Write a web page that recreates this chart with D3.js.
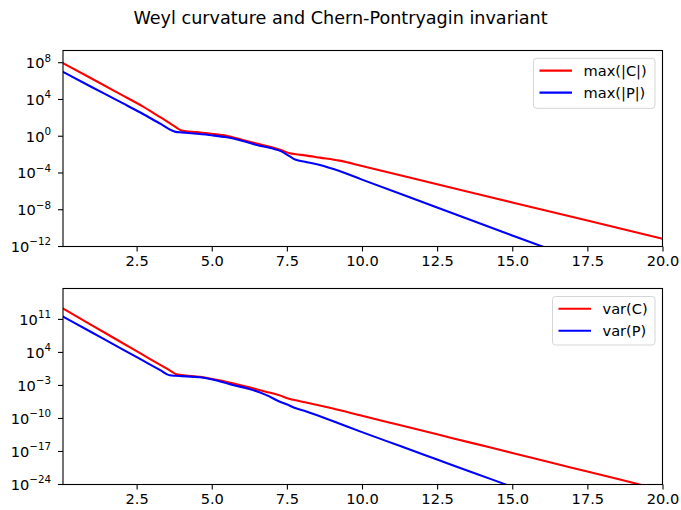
<!DOCTYPE html>
<html>
<head>
<meta charset="utf-8">
<script src="https://cdn.jsdelivr.net/npm/d3@7"></script>
<style>
  html, body { margin: 0; padding: 0; background: #ffffff; }
  svg { display: block; font-family: "DejaVu Sans", sans-serif; }
</style>
</head>
<body>
<svg id="chart" width="681" height="510"></svg>
<script>
// ---------------- data ----------------
const titleText = "Weyl curvature and Chern-Pontryagin invariant";

// top panel: max(|C|), max(|P|)
const xTop = [0.05, 1, 2, 2.7, 3.3, 3.8, 4.0, 4.5, 5.0, 5.5, 6.0, 6.5, 7.0, 7.3, 7.6, 7.8, 8.1, 8.6, 9.25, 10, 12.5, 15, 17.5, 20];
const maxC = [8.9e7, 1.9e6, 3.2e4, 1.8e3, 1.1e2, 1.0e1, 4.2, 2.8, 1.9, 1.12, 4.2e-1, 1.6e-1, 6.3e-2, 3.2e-2, 1.4e-2, 1.1e-2, 8.3e-3, 4.7e-3, 2.2e-3, 5.8e-4, 6.0e-6, 6.3e-8, 6.6e-10, 6.9e-12];
const maxP = [1.0e7, 2.3e5, 4.5e3, 2.8e2, 2.2e1, 3.0, 2.6, 1.86, 1.26, 7.6e-1, 3.2e-1, 1.1e-1, 4.8e-2, 2.4e-2, 6.3e-3, 2.7e-3, 1.66e-3, 7.4e-4, 1.6e-4, 1.9e-5, 1.8e-8, 1.6e-11, 1.6e-14, 1.6e-17];

// bottom panel: var(C), var(P)
const xBot = [0.05, 1, 2, 2.7, 3.3, 3.6, 3.8, 4.0, 4.6, 5.2, 5.7, 6.25, 6.8, 7.25, 7.6, 7.8, 8.1, 9.0, 10, 11.25, 12.5, 13.75, 15, 16.25, 17.5, 19.24, 20];
const varC = [2.0e13, 6.3e9, 1.26e6, 3.3e3, 2.0e1, 1.6, 2.8e-1, 1.66e-1, 6.9e-2, 1.4e-2, 2.75e-3, 3.9e-4, 4.8e-5, 7.9e-6, 1.4e-6, 7.1e-7, 2.8e-7, 1.4e-8, 3.7e-10, 4.0e-12, 4.3e-14, 4.6e-16, 5.0e-18, 5.2e-20, 5.6e-22, 1.0e-24, 6.3e-26];
const varP = [4.0e11, 1.86e8, 5.8e4, 2.0e2, 1.55, 1.4e-1, 1.1e-1, 9.5e-2, 5.6e-2, 1.0e-2, 1.26e-3, 1.8e-4, 1.0e-5, 4.0e-7, 5.0e-8, 1.4e-8, 4.0e-9, 3.2e-11, 1.26e-13, 1.6e-16, 2.0e-19, 2.5e-22, 3.2e-25, 4.0e-28, 5.0e-31, 5.0e-35, 1.0e-36];

const xTicks = [2.5, 5.0, 7.5, 10.0, 12.5, 15.0, 17.5, 20.0];
const yTicksTop = [-12, -8, -4, 0, 4, 8];       // exponents
const yTicksBot = [-24, -17, -10, -3, 4, 11];   // exponents

const seriesTop = [
  { name: "max(|C|)", values: maxC, color: "#ff0000" },
  { name: "max(|P|)", values: maxP, color: "#0000ff" }
];
const seriesBot = [
  { name: "var(C)", values: varC, color: "#ff0000" },
  { name: "var(P)", values: varP, color: "#0000ff" }
];

// ---------------- drawing ----------------
const svg = d3.select("#chart");
const FS = 14.6;

svg.append("text")
  .attr("x", 340.5).attr("y", 24)
  .attr("text-anchor", "middle")
  .attr("font-size", 17.6)
  .attr("fill", "#000")
  .text(titleText);

const left = 63, right = 662.5;

function panel(id, top, bottom, xs, series, yDomain, yTicks, legendBox) {
  const x = d3.scaleLinear().domain([0.05, 20]).range([left, right]);
  const y = d3.scaleLog().domain(yDomain).range([bottom, top]);
  const g = svg.append("g");

  g.append("clipPath").attr("id", "clip" + id)
    .append("rect").attr("x", left).attr("y", top)
    .attr("width", right - left).attr("height", bottom - top);

  const line = d3.line().x(d => x(d[0])).y(d => y(d[1])).curve(d3.curveMonotoneX);
  const plot = g.append("g").attr("clip-path", `url(#clip${id})`);
  series.forEach(s => {
    plot.append("path")
      .attr("d", line(xs.map((v, i) => [v, s.values[i]])))
      .attr("fill", "none")
      .attr("stroke", s.color)
      .attr("stroke-width", 2.1)
      .attr("stroke-linejoin", "round")
      .attr("stroke-linecap", "square");
  });

  // x axis
  const xAxis = d3.axisBottom(x).tickValues(xTicks).tickFormat(d3.format(".1f"))
    .tickSize(5).tickPadding(4);
  const gx = g.append("g").attr("transform", `translate(0,${bottom})`).call(xAxis);
  gx.select(".domain").remove();
  gx.selectAll(".tick line").attr("stroke", "#000").attr("stroke-width", 1.1);
  gx.selectAll(".tick text").attr("font-size", FS).attr("fill", "#000")
    .attr("font-family", "DejaVu Sans").attr("dy", "0.72em");

  // y axis (log) with mathtext-like labels
  const gy = g.append("g");
  yTicks.forEach(e => {
    const yy = y(Math.pow(10, e));
    gy.append("line").attr("x1", left - 5).attr("x2", left)
      .attr("y1", yy).attr("y2", yy).attr("stroke", "#000").attr("stroke-width", 1.1);
    const t = gy.append("text").attr("x", left - 12).attr("y", yy + 5.3)
      .attr("text-anchor", "end").attr("font-size", FS).attr("fill", "#000");
    t.append("tspan").text("10");
    t.append("tspan").attr("dy", -6.5).attr("font-size", 10.3)
      .text(e < 0 ? "\u2212" + Math.abs(e) : String(e));
  });

  // frame
  g.append("rect").attr("x", left).attr("y", top)
    .attr("width", right - left).attr("height", bottom - top)
    .attr("fill", "none").attr("stroke", "#000").attr("stroke-width", 1.1);

  // legend
  const lg = g.append("g");
  lg.append("rect").attr("x", legendBox.x).attr("y", legendBox.y)
    .attr("width", legendBox.w).attr("height", legendBox.h)
    .attr("rx", 3).attr("fill", "#fff").attr("fill-opacity", 0.8)
    .attr("stroke", "#d5d5d5").attr("stroke-width", 1);
  series.forEach((s, i) => {
    const ly = legendBox.y + 12.3 + i * 22;
    lg.append("line").attr("x1", legendBox.x + 6).attr("x2", legendBox.x + 38.5)
      .attr("y1", ly).attr("y2", ly).attr("stroke", s.color).attr("stroke-width", 2.1);
    lg.append("text").attr("x", legendBox.x + 50).attr("y", ly + 5.3)
      .attr("font-size", FS).attr("fill", "#000").text(s.name);
  });
}

panel("top", 50.5, 246.5, xTop, seriesTop, [1e-12, Math.pow(10, 9.33)], yTicksTop,
  { x: 533.5, y: 58.3, w: 121.5, h: 50 });
panel("bot", 288.5, 484.5, xBot, seriesBot, [1e-24, Math.pow(10, 17.55)], yTicksBot,
  { x: 552.5, y: 296.5, w: 102.5, h: 48.5 });
</script>
</body>
</html>
